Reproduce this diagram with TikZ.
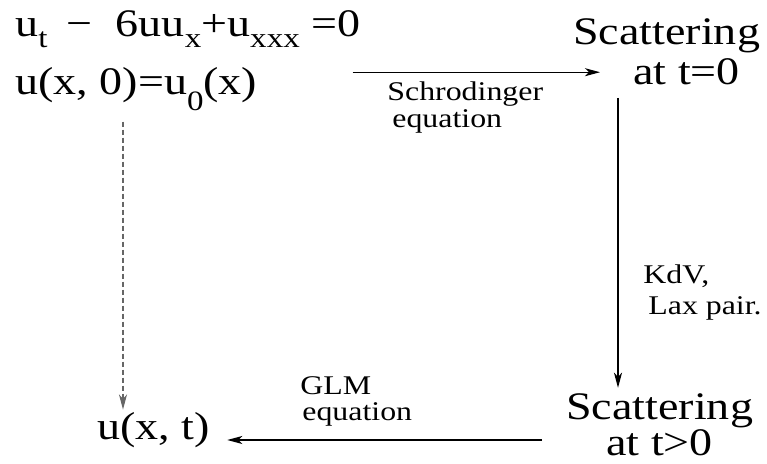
\documentclass[tikz,border=0pt]{standalone}
\usepackage{fontspec}
\setmainfont{Liberation Serif}
\usepackage{graphicx}
\usetikzlibrary{arrows.meta, positioning}

\newcommand{\wide}[1]{\scalebox{1.18}[1]{#1}}
\newcommand{\lsub}[2][5.5pt]{\raisebox{-#1}{\fontsize{14}{14}\selectfont #2}}

\tikzset{
  big/.style={inner sep=0pt, font=\fontsize{19.5}{22}\selectfont},
  small/.style={inner sep=0pt, font=\fontsize{13.5}{16}\selectfont},
  arr/.style={-{Stealth[length=7.5pt,width=4pt,inset=2pt]}, line width=0.6pt},
  dsh/.style={arr, black!60, dash pattern=on 2.5pt off 1.5pt}
}

\begin{document}
\begin{tikzpicture}[x=0.5pt, y=-0.5pt]
  \useasboundingbox (0,0) rectangle (767,464);

  % KdV problem
  \node[big, anchor=base west] (pde) at (15,37) {\wide{u\lsub{t}\ \,−\ \ 6uu\lsub{x}+u\lsub{xxx} =0}};
  \node[big, anchor=base west] (ic) at (15,95) {\wide{u(x, 0)=u\lsub[8pt]{0}(x)}};

  % scattering data
  \node[big, anchor=base west] (scatzero) at (573,45) {\wide{Scattering}};
  \node[big, anchor=base west] (atzero) at (633,85) {\wide{at t=0}};
  \node[big, anchor=base west] (scatt) at (566,420) {\wide{Scattering}};
  \node[big, anchor=base west] (att) at (606,456) {\wide{at t>0}};

  % solution
  \node[big, anchor=base west] (sol) at (97,440) {\wide{u(x, t)}};

  % labels
  \node[small, anchor=base west] (schr) at (387,101) {\wide{Schrodinger}};
  \node[small, anchor=base west] (schreq) at (392,128) {\wide{equation}};
  \node[small, anchor=base west] (kdv) at (643,284) {\wide{KdV,}};
  \node[small, anchor=base west] (lax) at (648,315) {\wide{Lax pair.}};
  \node[small, anchor=base west] (glm) at (300,395) {\wide{GLM}};
  \node[small, anchor=base west] (glmeq) at (302,421) {\wide{equation}};

  % arrows
  \draw[arr, shorten >=16.5pt] ([xshift=-4pt]pde.east |- atzero.west) -- (atzero.west);
  \draw[arr, shorten <=6pt, shorten >=3pt] ([xshift=22.5pt]scatzero.west |- atzero.south) -- ([xshift=22.5pt]scatzero.west |- scatt.north);
  \draw[arr, shorten >=8.5pt] ([xshift=-12pt]scatt.west |- sol.base) -- (sol.base east);
  \draw[dsh, shorten <=5pt, shorten >=1.5pt] ([xshift=13pt]sol.north west |- ic.south) -- ([xshift=13pt]sol.north west);
\end{tikzpicture}
\end{document}
